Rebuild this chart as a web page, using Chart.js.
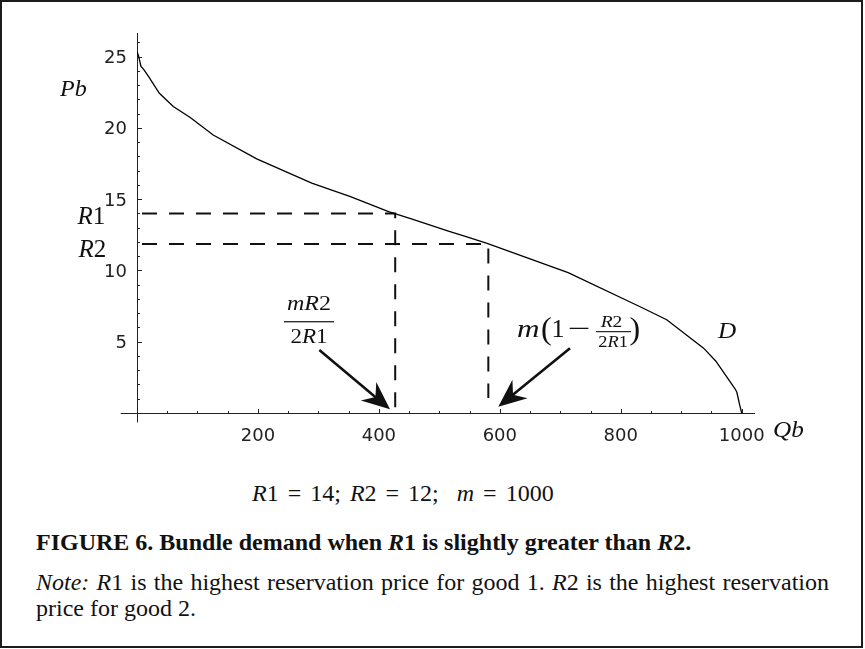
<!DOCTYPE html>
<html><head><meta charset="utf-8">
<script src="https://cdn.jsdelivr.net/npm/chart.js@4.4.1/dist/chart.umd.min.js"></script>
<style>
html,body{margin:0;padding:0;background:#fff;}
#wrap{position:relative;width:865px;height:649px;overflow:hidden;background:#fff;}
#frame{position:absolute;left:0;top:0;width:863px;height:648px;border:2px solid #1c1c1c;box-sizing:border-box;pointer-events:none;}
#cv{position:absolute;left:0;top:0;}
.t{position:absolute;font-family:"Liberation Serif","Times New Roman",serif;color:#111;white-space:pre;line-height:1;}
</style></head>
<body><div id="wrap">
<canvas id="cv" width="865" height="470"></canvas>
<div class="t" style="left:252px;top:480.6px;font-size:24px;word-spacing:3px;"><i>R</i>1 = 14; <i>R</i>2 = 12;  <i>m</i> = 1000</div>
<div class="t" style="left:36px;top:530px;font-size:24px;font-weight:bold;">FIGURE 6. Bundle demand when <i>R</i>1 is slightly greater than <i>R</i>2.</div>
<div class="t" style="left:36px;top:570px;font-size:24px;width:793px;text-align:justify;text-align-last:justify;white-space:normal;"><i>Note:</i> <i>R</i>1 is the highest reservation price for good 1. <i>R</i>2 is the highest reservation</div>
<div class="t" style="left:36px;top:595.6px;font-size:24px;">price for good 2.</div>
<div id="frame"></div>
</div>
<script>
// ---- data ----
const demandQ = [0, 2.5, 6.6, 11, 19, 37, 60, 88, 126, 198, 289, 353, 416, 455, 515, 543, 579, 713, 832, 876, 937, 957, 989, 992, 997, 1000];
const demandP = [25.35, 25.05, 24.3, 24.1, 23.6, 22.42, 21.49, 20.72, 19.5, 17.82, 16.12, 15.18, 14.13, 13.6, 12.75, 12.38, 11.9, 9.85, 7.45, 6.54, 4.55, 3.65, 1.7, 1.45, 0.5, 0];
const guideLevels = [14, 11.86];      // R1, R2 price levels
const guideQ = [427, 581];            // mR2/(2R1), m(1 - R2/(2R1))
const guideEnds = [0.35, 1.05];       // where the vertical dashes stop
const xTicks = [50, 100, 150, 200, 250, 300, 350, 400, 450, 500, 550, 600, 650, 700, 750, 800, 850, 900, 950, 1000];
const xTickLabels = [200, 400, 600, 800, 1000];
const yTicks = [1, 2, 3, 4, 5, 6, 7, 8, 9, 10, 11, 12, 13, 14, 15, 16, 17, 18, 19, 20, 21, 22, 23, 24, 25, 26];
const yTickLabels = [5, 10, 15, 20, 25];
const arrowTails = [[301.5, 4.42], [716.1, 4.54]];
const arrowTips = [[418.4, 0.26], [597.5, 0.44]];

const SERIF = '"Liberation Serif","Times New Roman",serif';
const INK = '#111';

const guideSets = guideLevels.map((lvl, i) => ({
  data: [{x: 0, y: lvl}, {x: guideQ[i], y: lvl}, {x: guideQ[i], y: guideEnds[i]}],
  borderColor: '#111', borderWidth: 2, borderDash: [15, 12], borderDashOffset: 22,
  pointRadius: 0, tension: 0, fill: false
}));

function drawRich(ctx, parts, x, y, size, sx, align) {
  const fonts = parts.map(p => (p[1] ? 'italic ' : '') + size + 'px ' + SERIF);
  let w = 0;
  parts.forEach((p, i) => { ctx.font = fonts[i]; w += ctx.measureText(p[0]).width * sx; });
  let cx = align === 'center' ? x - w / 2 : x;
  parts.forEach((p, i) => {
    ctx.font = fonts[i];
    const adv = ctx.measureText(p[0]).width * sx;
    ctx.save(); ctx.translate(cx, y); ctx.scale(sx, 1); ctx.fillText(p[0], 0, 0); ctx.restore();
    cx += adv;
  });
  return w;
}

const axesPlugin = {
  id: 'axesPlugin',
  beforeDatasetsDraw(chart) {
    const {ctx, scales: {x, y}} = chart;
    const ax = Math.round(x.getPixelForValue(0)) + 0.5;
    const ay = Math.round(y.getPixelForValue(0)) + 0.5;
    ctx.save();
    ctx.strokeStyle = '#222'; ctx.lineWidth = 1;
    ctx.beginPath();
    ctx.moveTo(x.getPixelForValue(-27), ay); ctx.lineTo(x.getPixelForValue(1022), ay);
    ctx.moveTo(ax, y.getPixelForValue(-0.66)); ctx.lineTo(ax, y.getPixelForValue(26.65));
    ctx.stroke();
    ctx.beginPath();
    xTicks.forEach(v => {
      const px = Math.round(x.getPixelForValue(v)) + 0.5;
      const len = xTickLabels.includes(v) ? 4.5 : 2.5;
      ctx.moveTo(px, ay); ctx.lineTo(px, ay - len);
    });
    yTicks.forEach(v => {
      const py = Math.round(y.getPixelForValue(v)) + 0.5;
      const len = yTickLabels.includes(v) ? 4.5 : 2.5;
      ctx.moveTo(ax, py); ctx.lineTo(ax + len, py);
    });
    ctx.stroke();
    ctx.restore();
  }
};

const annotPlugin = {
  id: 'annotPlugin',
  afterDraw(chart) {
    const {ctx, scales: {x, y}} = chart;
    const ax = x.getPixelForValue(0), ay = y.getPixelForValue(0);
    ctx.save();
    ctx.fillStyle = INK; ctx.strokeStyle = INK;
    ctx.textBaseline = 'alphabetic'; ctx.textAlign = 'left';
    // axis names
    drawRich(ctx, [['Pb', true]], ax - 77, y.getPixelForValue(22.2), 24, 1, 'left');
    drawRich(ctx, [['Qb', true]], x.getPixelForValue(1022) + 18, ay + 23.5, 24, 1.05, 'left');
    // R1, R2 labels
    drawRich(ctx, [['R', true], ['1', false]], ax - 59.5, y.getPixelForValue(guideLevels[0]) + 11, 25, 1, 'left');
    drawRich(ctx, [['R', true], ['2', false]], ax - 58.5, y.getPixelForValue(guideLevels[1]) + 13.5, 25, 1, 'left');
    // D
    drawRich(ctx, [['D', true]], x.getPixelForValue(960.8), y.getPixelForValue(5.24), 24, 1.05, 'left');
    // fraction mR2 / 2R1
    const fx = x.getPixelForValue(284.4), fy = y.getPixelForValue(6.40);
    drawRich(ctx, [['mR', true], ['2', false]], fx, fy - 11.7, 20, 1.2, 'center');
    drawRich(ctx, [['2', false], ['R', true], ['1', false]], fx, fy + 21.6, 20, 1.15, 'center');
    ctx.fillRect(fx - 25, fy - 0.6, 50, 1.2);
    // m(1 - R2/(2R1))
    const gx = x.getPixelForValue(630.1), gy = y.getPixelForValue(5.35);
    drawRich(ctx, [['m', true]], gx - 1, gy, 26, 1.2, 'left');
    drawRich(ctx, [['(', false]], gx + 23, gy + 2.5, 32, 1, 'left');
    drawRich(ctx, [['1', false]], gx + 33.5, gy, 26, 1, 'left');
    drawRich(ctx, [['\u2212', false]], gx + 50, gy, 26, 1.55, 'left');
    drawRich(ctx, [['R', true], ['2', false]], gx + 93.5, gy - 10, 17, 1.15, 'center');
    ctx.fillRect(gx + 78, gy - 5.6, 35, 1.1);
    drawRich(ctx, [['2', false], ['R', true], ['1', false]], gx + 95, gy + 10, 16, 1.15, 'center');
    drawRich(ctx, [[')', false]], gx + 111.5, gy + 2.5, 32, 1, 'left');
    // arrows
    arrowTails.forEach((t, i) => {
      const x1 = x.getPixelForValue(t[0]), y1 = y.getPixelForValue(t[1]);
      const x2 = x.getPixelForValue(arrowTips[i][0]), y2 = y.getPixelForValue(arrowTips[i][1]);
      const L = Math.hypot(x2 - x1, y2 - y1), ux = (x2 - x1) / L, uy = (y2 - y1) / L;
      const nx = -uy, ny = ux;
      ctx.lineWidth = 2.6; ctx.lineCap = 'butt';
      ctx.beginPath(); ctx.moveTo(x1, y1); ctx.lineTo(x2 - 18 * ux, y2 - 18 * uy); ctx.stroke();
      ctx.beginPath();
      ctx.moveTo(x2, y2);
      ctx.lineTo(x2 - 28 * ux + 12 * nx, y2 - 28 * uy + 12 * ny);
      ctx.lineTo(x2 - 19 * ux, y2 - 19 * uy);
      ctx.lineTo(x2 - 28 * ux - 12 * nx, y2 - 28 * uy - 12 * ny);
      ctx.closePath(); ctx.fill();
    });
    ctx.restore();
  }
};

new Chart(document.getElementById('cv'), {
  type: 'line',
  data: {
    datasets: [
      {data: demandQ.map((q, i) => ({x: q, y: demandP[i]})), borderColor: '#000', borderWidth: 1.3,
       pointRadius: 0, tension: 0, fill: false},
      ...guideSets
    ]
  },
  options: {
    responsive: false, animation: false, devicePixelRatio: 1,
    layout: {padding: {top: 33, right: 110, left: 0, bottom: 0}},
    plugins: {legend: {display: false}, tooltip: {enabled: false}},
    scales: {
      x: {
        type: 'linear', min: 0, max: 1022,
        afterBuildTicks: s => { s.ticks = xTicks.map(v => ({value: v})); },
        afterFit: s => { s.height = 57; },
        grid: {display: false, drawTicks: false}, border: {display: false},
        ticks: {autoSkip: false, maxRotation: 0, minRotation: 0, padding: 13, color: '#222',
          font: {family: 'DejaVu Sans', size: 18},
          callback: v => xTickLabels.includes(v) ? String(v) : ''}
      },
      y: {
        type: 'linear', min: 0, max: 26.65,
        afterBuildTicks: s => { s.ticks = yTicks.map(v => ({value: v})); },
        afterFit: s => { s.width = 137; },
        grid: {display: false, drawTicks: false}, border: {display: false},
        ticks: {autoSkip: false, padding: 10, labelOffset: 2, color: '#222',
          font: {family: 'DejaVu Sans', size: 18},
          callback: v => yTickLabels.includes(v) ? String(v) : ''}
      }
    }
  },
  plugins: [axesPlugin, annotPlugin]
});
</script>
</body></html>
